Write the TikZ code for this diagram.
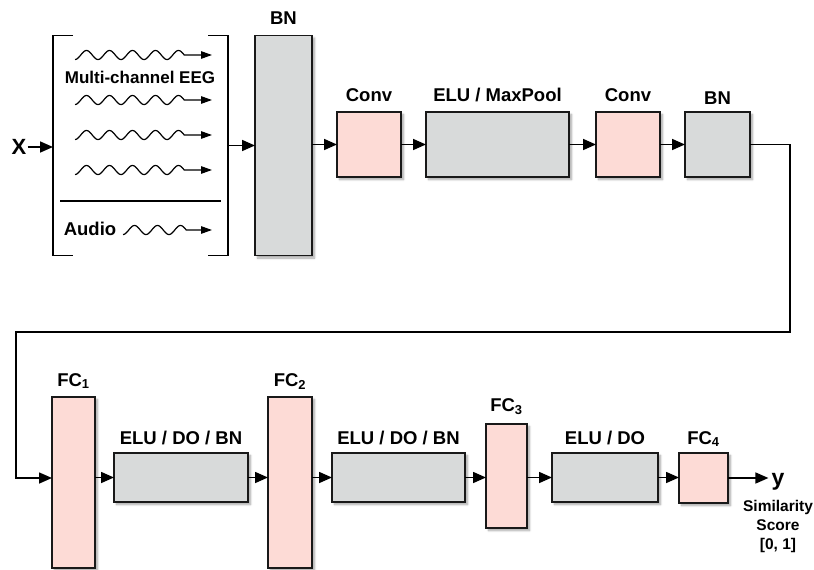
\documentclass[tikz,border=0pt]{standalone}
\usepackage{fontspec}
\setmainfont{Liberation Sans}
\usetikzlibrary{arrows.meta,shadows.blur,calc}
\definecolor{pinkc}{RGB}{253,219,214}
\definecolor{grayc}{RGB}{216,218,218}
\begin{document}
\begin{tikzpicture}[x=1pt,y=-1pt,
  boxbase/.style={draw=black!90, line width=1.8pt, inner sep=0pt, outer sep=0pt,
    blur shadow={shadow xshift=2.5pt, shadow yshift=-2.5pt, shadow blur steps=6, shadow opacity=35}},
  pinkb/.style={boxbase, fill=pinkc},
  grayb/.style={boxbase, fill=grayc},
  lbl/.style={font=\bfseries\fontsize{18.5}{21}\selectfont, inner sep=0pt, anchor=base},
  arr/.style={line width=1.6pt, -{Triangle[length=13pt,width=11pt]}},
  warr/.style={line width=1.2pt, -{Triangle[length=11pt,width=7.5pt]}},
  plain/.style={line width=1.6pt}
]
\useasboundingbox (0,0) rectangle (814,570);

% input block
\node[minimum width=175, minimum height=220, inner sep=0pt, outer sep=0pt] (inp) at (140.5,145.5) {};
\draw[plain] ($(inp.north west)+(20,0)$) -- (inp.north west) -- (inp.south west) -- ($(inp.south west)+(20,0)$);
\draw[plain] ($(inp.north east)+(-20,0)$) -- (inp.north east) -- (inp.south east) -- ($(inp.south east)+(-20,0)$);
\draw[line width=1.4pt] (60,201) -- (221,201);
\node[lbl, font=\bfseries\fontsize{17}{20}\selectfont] (eeg) at (140,83) {Multi-channel EEG};
\node[lbl] (audio) at (90,235) {Audio};
\foreach \yy in {55,100,135,170}{
  \draw[warr] plot[domain=0:109.25, samples=120, smooth] ({75+\x},{\yy+4.5*cos(\x/23*360)}) -- (212,\yy);
}
\draw[warr] plot[domain=0:63.25, samples=80, smooth] ({123+\x},{230+4.5*cos(\x/23*360)}) -- (212,230);

\node[font=\bfseries\fontsize{22}{25}\selectfont, inner sep=1pt] (X) at (19,147) {X};
\draw[arr] (X.east) -- (X.east -| inp.west);

% row 1
\node[grayb, minimum width=57, minimum height=220] (bn1) at (283.5,145.5) {};
\node[pinkb, minimum width=64, minimum height=65] (conv1) at (369,144.5) {};
\node[grayb, minimum width=143, minimum height=65] (mp) at (497.5,144.5) {};
\node[pinkb, minimum width=64, minimum height=65] (conv2) at (628,144.5) {};
\node[grayb, minimum width=65, minimum height=65] (bn2) at (717.5,144.5) {};

\node[lbl] at (283.5,24) {BN};
\node[lbl] at (369,101) {Conv};
\node[lbl] at (497.5,101) {ELU / MaxPool};
\node[lbl] at (628,101) {Conv};
\node[lbl] at (717.5,104) {BN};

\draw[arr] (inp.east) -- (bn1.west);
\draw[arr] (bn1.east |- conv1.west) -- (conv1.west);
\draw[arr] (conv1.east) -- (mp.west);
\draw[arr] (mp.east) -- (conv2.west);
\draw[arr] (conv2.east) -- (bn2.west);

% row 2
\node[pinkb, minimum width=43, minimum height=171] (fc1) at (73.5,482.5) {};
\node[grayb, minimum width=134, minimum height=49] (e1) at (181,477.5) {};
\node[pinkb, minimum width=44, minimum height=171] (fc2) at (290,482.5) {};
\node[grayb, minimum width=133, minimum height=49] (e2) at (398.5,477.5) {};
\node[pinkb, minimum width=41, minimum height=104] (fc3) at (506.5,476) {};
\node[grayb, minimum width=106, minimum height=49] (e3) at (605,477.5) {};
\node[pinkb, minimum width=49, minimum height=50] (fc4) at (703.5,478) {};

\node[lbl] at (73.5,386) {FC\textsubscript{1}};
\node[lbl] at (181,444) {ELU / DO / BN};
\node[lbl] at (290,386) {FC\textsubscript{2}};
\node[lbl] at (398.5,444) {ELU / DO / BN};
\node[lbl] at (506.5,411) {FC\textsubscript{3}};
\node[lbl] at (605,444) {ELU / DO};
\node[lbl] at (703.5,444) {FC\textsubscript{4}};

\coordinate (t1) at (790,332);
\coordinate (t2) at (16,332);
\coordinate (t3) at (16,478);
\draw[arr] (bn2.east) -| (t1) -- (t2) -- (t3) -- (t3 -| fc1.west);

\draw[arr] (fc1.east |- e1.west) -- (e1.west);
\draw[arr] (e1.east) -- (e1.east -| fc2.west);
\draw[arr] (fc2.east |- e2.west) -- (e2.west);
\draw[arr] (e2.east) -- (e2.east -| fc3.west);
\draw[arr] (fc3.east |- e3.west) -- (e3.west);
\draw[arr] (e3.east) -- (e3.east -| fc4.west);

\node[font=\bfseries\fontsize{23}{26}\selectfont, inner sep=0pt, anchor=base] (y) at (778,485) {y};
\draw[arr] (fc4.east) -- ([xshift=-3pt]y.west |- fc4.east);
\node[font=\bfseries\fontsize{15.5}{19}\selectfont, align=center, inner sep=0pt, anchor=north] (sim) at (778,500) {Similarity\\Score\\{[0, 1]}};
\end{tikzpicture}
\end{document}
